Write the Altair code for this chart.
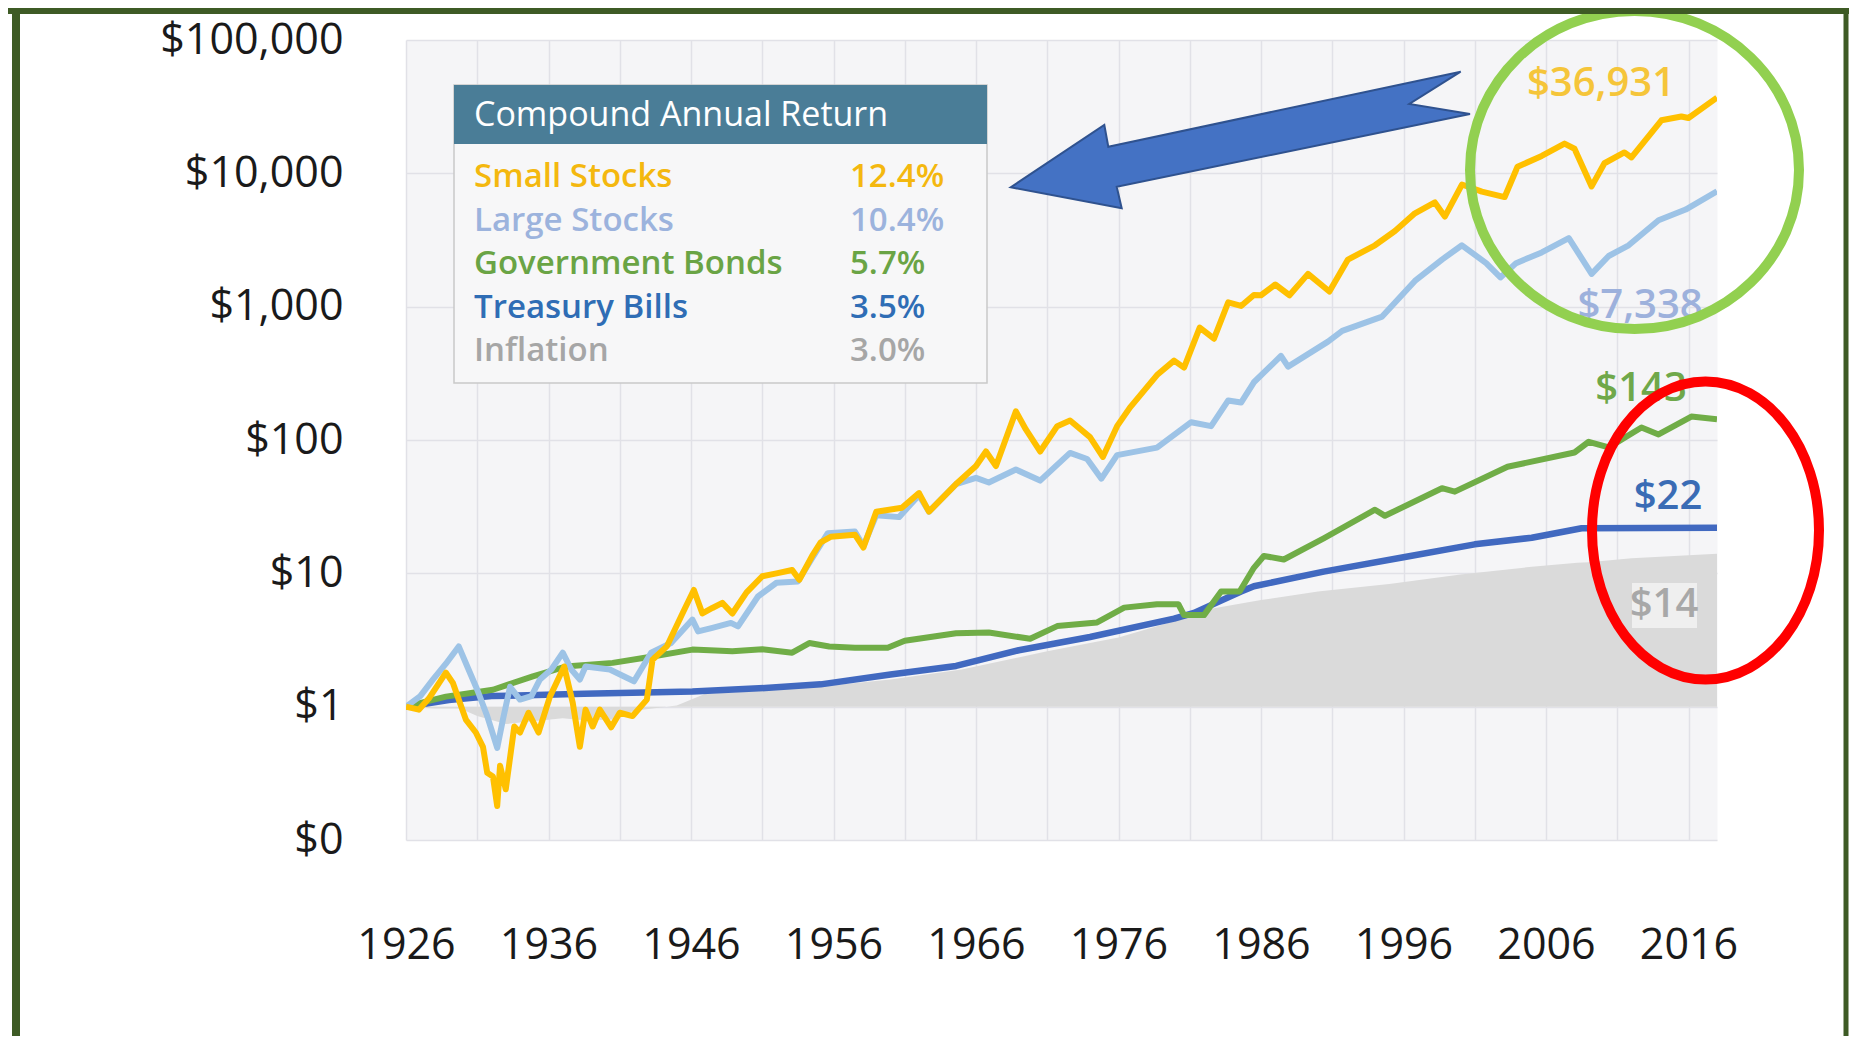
import altair as alt
import pandas as pd

# ---------------- data ----------------
SERIES = ["Small Stocks", "Large Stocks", "Government Bonds", "Treasury Bills", "Inflation"]
CAGR = ["12.4%", "10.4%", "5.7%", "3.5%", "3.0%"]
END_LABELS = ["$36,931", "$7,338", "$143", "$22", "$14"]

SMALL_YEARS = [1926.0, 1926.9, 1927.6, 1928.8, 1929.3, 1929.7, 1930.2, 1930.9, 1931.4, 1931.7, 1932.1,
               1932.4, 1932.6, 1933.0, 1933.6, 1934.0, 1934.6, 1935.3, 1936.1, 1937.1, 1937.7, 1938.2,
               1938.6, 1939.1, 1939.6, 1940.4, 1941.0, 1941.9, 1942.9, 1943.3, 1944.3, 1945.4, 1946.2,
               1946.8, 1947.5, 1948.2, 1948.9, 1949.9, 1951.0, 1952.0, 1953.1, 1953.6, 1954.5, 1955.1,
               1955.8, 1957.5, 1958.1, 1959.0, 1960.8, 1962.0, 1962.7, 1964.6, 1966.0, 1966.7, 1967.4,
               1968.8, 1969.5, 1970.5, 1971.7, 1972.6, 1974.0, 1974.9, 1975.9, 1976.8, 1978.7, 1979.9,
               1980.6, 1981.7, 1982.7, 1983.7, 1984.6, 1985.5, 1986.0, 1987.0, 1988.0, 1989.3, 1990.8,
               1992.1, 1994.0, 1995.4, 1996.8, 1998.2, 1998.9, 2000.1, 2001.5, 2003.1, 2004.0, 2005.7,
               2007.3, 2008.0, 2009.2, 2010.1, 2011.5, 2012.0, 2014.1, 2015.5, 2016.0, 2018.0]
SMALL_VALUES = [1.0, 0.95, 1.15, 1.8, 1.5, 1.13, 0.8, 0.64, 0.5, 0.32, 0.3,
                0.18, 0.36, 0.24, 0.71, 0.64, 0.9, 0.64, 1.19, 2.0, 1.07, 0.5,
                0.95, 0.71, 0.95, 0.7, 0.9, 0.85, 1.13, 2.25, 2.83, 5.0, 7.5,
                5.0, 5.5, 6.0, 5.0, 7.2, 9.5, 10.0, 10.6, 8.95, 13.5, 17.1,
                18.8, 19.5, 15.6, 29, 31, 40, 29, 46.7, 63.8, 82, 63.8,
                164, 120, 82, 127, 140, 105, 74.7, 127, 175, 307, 394,
                349, 697, 575, 1079, 1012, 1222, 1218, 1466, 1218, 1762, 1298,
                2255, 2886, 3697, 5018, 6050, 4740, 8240, 7300, 6640, 11200, 13500,
                16700, 15300, 7980, 11900, 14350, 13150, 25000, 26700, 26000, 36931]

LARGE_YEARS = [1926.0, 1927.0, 1927.9, 1928.8, 1929.7, 1930.3, 1931.0, 1931.7, 1932.4, 1932.8, 1933.3,
               1934.0, 1934.8, 1935.4, 1936.2, 1937.0, 1937.6, 1938.2, 1938.6, 1940.3, 1942.0, 1943.2,
               1944.6, 1946.1, 1946.5, 1947.5, 1948.8, 1949.3, 1950.7, 1952.0, 1953.5, 1954.5, 1955.6,
               1957.5, 1958.1, 1959.0, 1960.6, 1962.0, 1962.7, 1964.6, 1966.0, 1966.9, 1968.8, 1970.5,
               1972.6, 1973.8, 1974.8, 1975.9, 1978.7, 1981.1, 1982.5, 1983.7, 1984.6, 1985.5, 1987.4,
               1987.9, 1990.7, 1991.7, 1994.5, 1996.8, 1998.7, 2000.1, 2001.8, 2002.8, 2003.9, 2005.7,
               2007.6, 2009.2, 2010.4, 2011.8, 2013.9, 2015.8, 2018.0]
LARGE_VALUES = [1.0, 1.2, 1.6, 2.1, 2.83, 2.0, 1.34, 0.85, 0.49, 0.8, 1.41,
                1.13, 1.2, 1.6, 1.9, 2.54, 1.9, 1.6, 2.0, 1.9, 1.55, 2.54,
                3.0, 4.5, 3.67, 3.9, 4.25, 4.0, 6.7, 8.5, 8.7, 13.0, 20.0,
                20.6, 16.0, 27.3, 26.4, 38.6, 29.0, 46.7, 52.0, 48.0, 60.0, 49.6,
                80.0, 72.0, 51.3, 77.0, 87.7, 136, 127, 198, 191, 271, 427,
                355, 547, 658, 843, 1560, 2255, 2886, 2120, 1656, 2120, 2552,
                3266, 1762, 2399, 2886, 4446, 5350, 7338]

GOV_YEARS = [1926.0, 1928.8, 1932.1, 1934.9, 1937.2, 1940.5, 1943.3, 1946.1, 1948.9, 1951.0, 1953.1,
             1954.3, 1955.7, 1957.5, 1959.8, 1961.0, 1964.6, 1966.9, 1969.8, 1971.7, 1974.5, 1976.4,
             1978.7, 1980.2, 1980.6, 1982.0, 1983.2, 1984.5, 1985.5, 1986.2, 1987.6, 1990.4, 1994.0,
             1994.7, 1998.7, 1999.6, 2003.3, 2008.0, 2009.0, 2010.4, 2012.7, 2013.9, 2016.2, 2018.0]
GOV_VALUES = [1.0, 1.19, 1.34, 1.69, 2.0, 2.13, 2.38, 2.68, 2.6, 2.7, 2.54,
              3.0, 2.83, 2.77, 2.77, 3.12, 3.55, 3.6, 3.23, 4.02, 4.28, 5.53,
              5.87, 5.87, 4.86, 4.86, 7.3, 7.3, 11.0, 13.5, 12.7, 18.3, 30,
              27, 43.5, 41, 63, 80.6, 97, 88, 124, 110, 150, 143]

TBILL_YEARS = [1926.0, 1929.0, 1932.0, 1938.5, 1946.1, 1951.2, 1955.1, 1960.0, 1964.6, 1969.0, 1974.0,
               1979.9, 1981.3, 1984.6, 1985.5, 1990.4, 1996.0, 2001.0, 2005.0, 2008.5, 2018.0]
TBILL_VALUES = [1.0, 1.12, 1.2, 1.25, 1.3, 1.38, 1.47, 1.74, 2.02, 2.65, 3.33,
                4.57, 5.05, 7.3, 8.0, 10.3, 13.2, 16.5, 18.5, 21.8, 22.0]

INFL_YEARS = [1926.0, 1928.0, 1929.8, 1931.0, 1933.0, 1937.0, 1938.5, 1940.5, 1942.0, 1945.0, 1947.0,
              1950.0, 1952.0, 1956.0, 1960.0, 1965.0, 1971.0, 1974.0, 1976.0, 1980.0, 1982.0, 1986.0,
              1990.0, 1995.0, 2000.0, 2005.0, 2008.2, 2009.0, 2012.0, 2015.0, 2018.0]
INFL_VALUES = [1.0, 0.97, 0.97, 0.85, 0.74, 0.82, 0.79, 0.80, 0.93, 1.02, 1.25,
               1.3, 1.36, 1.45, 1.6, 1.9, 2.6, 3.0, 3.3, 4.4, 5.3, 6.3,
               7.3, 8.3, 9.8, 11.2, 12.0, 12.1, 13.0, 13.5, 14.0]

GRID_YEARS = list(range(1926, 2017, 5))
Y_TICKS = [0.1, 1, 10, 100, 1000, 10000, 100000]

# ---------------- styles / layout ----------------
LINE_COLORS = ["#ffc000", "#9dc3e6", "#70ad47", "#4169c0"]
LEGEND_COLORS = ["#f4b80f", "#9cb3dd", "#6aa445", "#2f6db5", "#a6a6a6"]
END_COLORS = ["#f5c53a", "#9db1dc", "#6fa84a", "#3a6cb5", "#a8a8a8"]
END_OFFSETS = [(-116, -14), (-77, 115), (-76, -30), (-49, -31), (-53, 51)]
FONT = "Open Sans"

x_scale = alt.Scale(domain=[1926, 2018], nice=False, zero=False)
y_scale = alt.Scale(type="log", domain=[0.1, 100000], nice=False)

x_enc = alt.X("year:Q", scale=x_scale, title=None,
              axis=alt.Axis(values=GRID_YEARS,
                            labelExpr="(datum.value - 1926) % 10 == 0 ? toString(datum.value) : ''",
                            labelFont=FONT, labelFontSize=43, labelColor="#1a1a1a",
                            labelPadding=84, ticks=False, tickSize=0, domain=False,
                            labelFlush=False, labelOverlap=False, labelLimit=0,
                            grid=True, gridColor="#e1e1e7", gridWidth=1.5))
y_enc = alt.Y("value:Q", scale=y_scale, title=None,
              axis=alt.Axis(values=Y_TICKS,
                            labelExpr="datum.value < 1 ? '$0' : '$' + format(datum.value, ',')",
                            labelFont=FONT, labelFontSize=43, labelColor="#1a1a1a",
                            labelPadding=63, ticks=False, tickSize=0, domain=False,
                            labelOverlap=False, labelFlush=False, labelLimit=0,
                            grid=True, gridColor="#e1e1e7", gridWidth=1.5))


def series_df(years, values):
    return pd.DataFrame({"year": years, "value": values})


layers = []

# inflation area (baseline $1)
layers.append(
    alt.Chart(series_df(INFL_YEARS, INFL_VALUES))
    .mark_area(color="#dadada", opacity=1, clip=True)
    .encode(x=x_enc, y=y_enc, y2=alt.datum(1))
)

line_sets = [(TBILL_YEARS, TBILL_VALUES, LINE_COLORS[3], 6.5),
             (GOV_YEARS, GOV_VALUES, LINE_COLORS[2], 6),
             (LARGE_YEARS, LARGE_VALUES, LINE_COLORS[1], 6),
             (SMALL_YEARS, SMALL_VALUES, LINE_COLORS[0], 6)]
for yrs, vals, col, sw in line_sets:
    layers.append(
        alt.Chart(series_df(yrs, vals))
        .mark_line(color=col, strokeWidth=sw, clip=True, strokeJoin="round")
        .encode(x=x_enc, y=y_enc)
    )

one = pd.DataFrame({"k": [0]})

# background box behind "$14"
layers.append(
    alt.Chart(one).mark_rect(color="#efefef")
    .encode(x=alt.value(1226), x2=alt.value(1291), y=alt.value(543), y2=alt.value(588))
)

# end labels anchored at the last data point of each series
END_SERIES = [(SMALL_YEARS, SMALL_VALUES), (LARGE_YEARS, LARGE_VALUES), (GOV_YEARS, GOV_VALUES),
              (TBILL_YEARS, TBILL_VALUES), (INFL_YEARS, INFL_VALUES)]
for i, (yrs, vals) in enumerate(END_SERIES):
    d = pd.DataFrame({"year": [yrs[-1]], "value": [vals[-1]], "label": [END_LABELS[i]]})
    dx, dy = END_OFFSETS[i]
    layers.append(
        alt.Chart(d).mark_text(font=FONT, fontSize=40, fontWeight=600, color=END_COLORS[i],
                               align="center", baseline="middle", dx=dx, dy=dy)
        .encode(x=x_enc, y=y_enc, text="label:N")
    )

# legend box
layers.append(
    alt.Chart(one).mark_rect(fill="#f7f7f8", stroke="#c9c9c9", strokeWidth=1.5)
    .encode(x=alt.value(48), x2=alt.value(581), y=alt.value(45), y2=alt.value(343))
)
layers.append(
    alt.Chart(one).mark_rect(fill="#4a7d97")
    .encode(x=alt.value(48), x2=alt.value(581), y=alt.value(45), y2=alt.value(104))
)
layers.append(
    alt.Chart(one).mark_text(text="Compound Annual Return", font=FONT, fontSize=34, color="white",
                             align="left", baseline="middle")
    .encode(x=alt.value(68), y=alt.value(76))
)
for i, name in enumerate(SERIES):
    yy = 137 + 43.5 * i
    layers.append(
        alt.Chart(one).mark_text(text=name, font=FONT, fontSize=33, fontWeight=600,
                                 color=LEGEND_COLORS[i], align="left", baseline="middle")
        .encode(x=alt.value(68), y=alt.value(yy))
    )
    layers.append(
        alt.Chart(one).mark_text(text=CAGR[i], font=FONT, fontSize=33, fontWeight=600,
                                 color=LEGEND_COLORS[i], align="left", baseline="middle")
        .encode(x=alt.value(444), y=alt.value(yy))
    )


# annotation shapes
def ellipse_shape(rx, ry):
    s = max(rx, ry)
    a, b = rx / s, ry / s
    path = f"M {-a:.4f} 0 A {a:.4f} {b:.4f} 0 1 1 {a:.4f} 0 A {a:.4f} {b:.4f} 0 1 1 {-a:.4f} 0 Z"
    return path, (2 * s) ** 2


ARROW_PTS = [(1010.7, 187.3), (1104.3, 125.0), (1108.3, 146.7), (1460.7, 71.7), (1409.3, 104.0),
             (1470.0, 114.0), (1116.7, 186.7), (1121.7, 208.3)]
ARROW_CENTER = (1240.0, 140.0)
ARROW_HALF = 240.0
arrow_path = "M " + " L ".join(
    f"{(px - ARROW_CENTER[0]) / ARROW_HALF:.4f} {(py - ARROW_CENTER[1]) / ARROW_HALF:.4f}"
    for px, py in ARROW_PTS) + " Z"
layers.append(
    alt.Chart(one).mark_point(shape=arrow_path, size=(2 * ARROW_HALF) ** 2, filled=True,
                              fill="#4472c4", stroke="#2f528f", strokeWidth=2, opacity=1)
    .encode(x=alt.value(ARROW_CENTER[0] - 406), y=alt.value(ARROW_CENTER[1] - 40))
)

g_path, g_size = ellipse_shape(164.5, 159)
layers.append(
    alt.Chart(one).mark_point(shape=g_path, size=g_size, filled=False, stroke="#92d050",
                              strokeWidth=10, opacity=1)
    .encode(x=alt.value(1634.5 - 406), y=alt.value(170 - 40))
)
r_path, r_size = ellipse_shape(113.5, 149)
layers.append(
    alt.Chart(one).mark_point(shape=r_path, size=r_size, filled=False, stroke="#ff0000",
                              strokeWidth=10, opacity=1)
    .encode(x=alt.value(1705.5 - 406), y=alt.value(530.5 - 40))
)

# outer frame
FRAME = "#3e5b25"
layers.append(
    alt.Chart(one).mark_rule(color=FRAME, strokeWidth=6)
    .encode(x=alt.value(-398), x2=alt.value(1443), y=alt.value(-29), y2=alt.value(-29))
)
layers.append(
    alt.Chart(one).mark_rule(color=FRAME, strokeWidth=8)
    .encode(x=alt.value(-390), x2=alt.value(-390), y=alt.value(-32), y2=alt.value(1000))
)
layers.append(
    alt.Chart(one).mark_rule(color=FRAME, strokeWidth=5)
    .encode(x=alt.value(1440), x2=alt.value(1440), y=alt.value(-32), y2=alt.value(1000))
)

chart = (
    alt.layer(*layers)
    .properties(width=1311, height=800, background="white",
                autosize=alt.AutoSizeParams(type="none"),
                padding={"left": 398, "top": 32, "right": 132, "bottom": 196})
    .configure_view(fill="#f5f5f7", stroke="transparent")
)

chart.save("out.html", embed_options={"renderer": "svg", "actions": False})
